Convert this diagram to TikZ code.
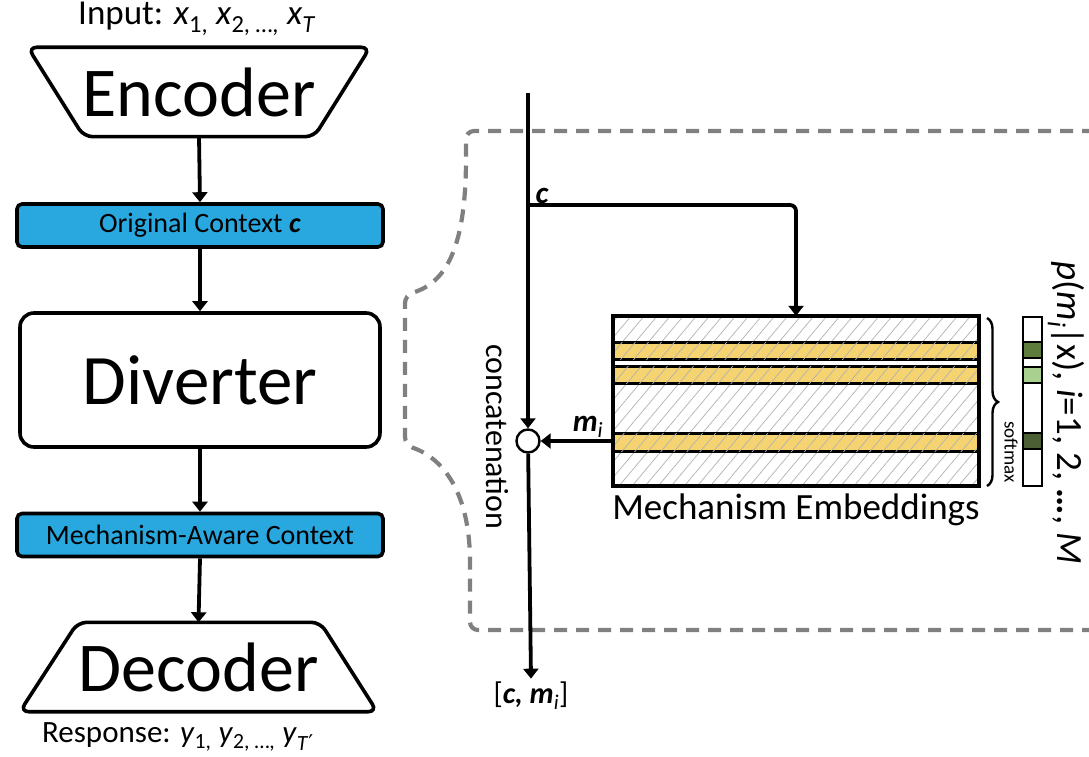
\documentclass[tikz,border=0pt]{standalone}
\usepackage{fontspec}
\setmainfont{Carlito}
\newfontfamily\symfont{DejaVu Sans}
\usetikzlibrary{arrows.meta,positioning,calc,patterns.meta,decorations.pathreplacing}
\definecolor{ctxblue}{RGB}{41,168,224}
\definecolor{slot}{RGB}{245,211,112}
\definecolor{pdark}{RGB}{94,124,60}
\definecolor{plight}{RGB}{169,208,142}
\definecolor{pdeep}{RGB}{75,94,52}
\definecolor{frame}{RGB}{128,128,128}

\newcommand{\fs}[1]{\fontsize{#1}{#1}\selectfont}
\newcommand{\bvec}[1]{\textbf{\textit{#1}}}

\tikzset{
  flow/.style={line width=3.8pt,-{Triangle[length=10pt,width=15pt]}},
  ctxbox/.style={draw,line width=3.6pt,rounded corners=5pt,fill=ctxblue,
    minimum width=366pt,minimum height=43pt,inner sep=0pt,font=\fs{28}},
  codec/.style={minimum width=#1,minimum height=89pt,inner sep=0pt,font=\fs{70}},
  hatch/.style={pattern={Lines[angle=50,distance=10pt,line width=0.7pt]},pattern color=black!30},
}

\begin{document}
\begin{tikzpicture}[x=1pt,y=-1pt]
  \useasboundingbox (0,0) rectangle (1089,757);

  % left column: encoder -> diverter -> decoder
  \node (inp) [font=\fs{35}] at (197,19)
    {Input: \textit{x}\textsubscript{1,} \textit{x}\textsubscript{2, …,} \textit{x}\textsubscript{\textit{T}}};
  \node (enc) [codec=342pt] at (199,92) {Encoder};
  \draw[line width=3.6pt,rounded corners=9pt] (enc.north west) -- (enc.north east)
    -- ([xshift=-56pt]enc.south east) -- ([xshift=56pt]enc.south west) -- cycle;

  \node (ctx) [ctxbox] at (200,225.5) {Original Context \bvec{c}};
  \node (div) [draw,line width=3.6pt,rounded corners=14pt,minimum width=360pt,
    minimum height=134pt,font=\fs{71}] at (200,380) {Diverter};
  \node (mac) [ctxbox] at (200,535) {Mechanism-Aware Context};

  \node (dec) [codec=357pt] at (198.5,667) {Decoder};
  \draw[line width=3.6pt,rounded corners=9pt] (dec.south west) -- (dec.south east)
    -- ([xshift=-57pt]dec.north east) -- ([xshift=58pt]dec.north west) -- cycle;
  \node (resp) [font=\fs{31}] at (178,737)
    {Response: \textit{y}\textsubscript{1,} \textit{y}\textsubscript{2, …,} \textit{y}\textsubscript{\textit{T}{\symfont′}}};

  \draw[flow] (enc.south) -- (ctx.north);
  \draw[flow] (ctx.south) -- (div.north);
  \draw[flow] (div.south) -- (mac.north);
  \draw[flow] (mac.south) -- (dec.north);

  % zoomed view of the diverter
  \draw[frame,line width=4.2pt,dash pattern=on 13pt off 9pt,rounded corners=8pt]
    (1095,131) -- (466,131) -- (466,150)
    .. controls (466,250) and (445,283) .. (405,295) -- (405,445)
    .. controls (448,460) and (470,500) .. (470,570) -- (470,630) -- (1095,630);

  \node (emb) [minimum width=366pt,minimum height=170pt,inner sep=0pt] at (796,401) {};
  \fill[white] (emb.north west) rectangle (emb.south east);
  \fill[hatch] (emb.north west) rectangle (emb.south east);
  \fill[white] (613,359) rectangle (979,366);
  \foreach \top/\bot in {342/359, 366/383, 433/451}{
    \filldraw[fill=slot,line width=3pt] (613,\top) rectangle (979,\bot);
    \fill[hatch] (613,\top) rectangle (979,\bot);
  }
  \draw[line width=4.4pt] (emb.north west) rectangle (emb.south east);
  \node (embl) [below=4pt of emb,font=\fs{37}] {Mechanism Embeddings};

  \draw[line width=2.4pt,decorate,decoration={brace,amplitude=11pt}] (987,318) -- (987,486);
  \node (smax) [rotate=-90,font=\fs{19}] at (1011,452) {softmax};

  % p(m_i|x) per mechanism
  \foreach \top/\bot/\col in {317/342/white, 342/358/pdark, 358/367/white, 367/383/plight,
                              383/433/white, 433/449/pdeep, 449/486/white}{
    \filldraw[fill=\col,line width=2.4pt] (1023,\top) rectangle (1042,\bot);
  }
  \node (plbl) [rotate=-90,font=\fs{37}] at (1066,413)
    {\textit{p}(\textit{m}\textsubscript{\textit{i}}|x), \textit{i}=1, 2, \textbf{…}, \textit{M}};

  % context stream and concatenation
  \coordinate (ctop) at (528,93);
  \coordinate (csplit) at (528,205);
  \node (cat) [circle,draw,line width=2.4pt,fill=white,minimum size=23pt,inner sep=0pt] at (528,441) {};
  \node (cm) [font=\fs{30}] at (531,696) {[\bvec{c,} \bvec{m}\textsubscript{\textit{i}}]};
  \node (clbl) [above right=-2pt and 4pt of csplit,font=\fs{31}] {\bvec{c}};
  \node (mlbl) [font=\fs{31}] at (588,427) {\bvec{m}\textsubscript{\textit{i}}};
  \node (conc) [rotate=-90,font=\fs{32}] at (497,437) {concatenation};

  \draw[flow] (ctop) -- (cat);
  \draw[flow] (cat) -- (cm.north);
  \draw[flow,rounded corners=6pt] (csplit) -| (emb.north);
  \draw[flow] (emb.west |- cat) -- (cat);
\end{tikzpicture}
\end{document}
